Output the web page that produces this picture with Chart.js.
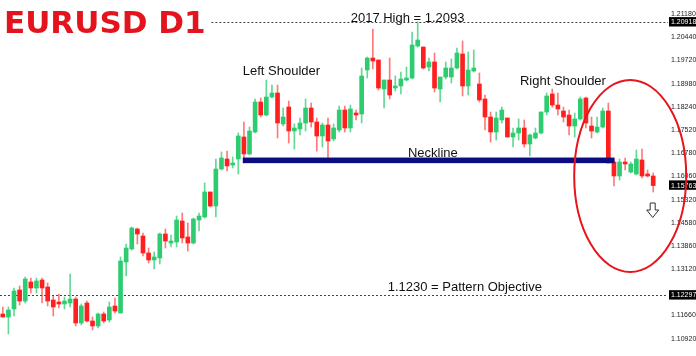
<!DOCTYPE html>
<html><head><meta charset="utf-8">
<script src="https://cdn.jsdelivr.net/npm/chart.js@4"></script>
<style>html,body{margin:0;padding:0;background:#fff;}canvas{display:block;}</style>
</head><body>
<canvas id="c" width="696" height="356"></canvas>
<script>
const opens = [1.11709,1.11614,1.11867,1.12467,1.12119,1.12720,1.12530,1.12783,1.12562,1.12151,
1.12088,1.12025,1.12056,1.12183,1.11425,1.12056,1.11488,1.11331,1.11709,1.11520,
1.11962,1.11740,1.13351,1.13761,1.14392,1.14172,1.13635,1.13414,1.13477,1.14235,
1.13950,1.13982,1.14645,1.14140,1.13950,1.14677,1.14771,1.15561,1.15119,1.16287,
1.16603,1.16413,1.16603,1.17297,1.16761,1.17455,1.18402,1.17991,1.18560,1.18686,
1.17708,1.18244,1.17486,1.17549,1.17739,1.18212,1.17771,1.17329,1.17676,1.17234,
1.17518,1.18149,1.17581,1.18054,1.18023,1.19412,1.19791,1.19728,1.18812,1.19096,
1.18844,1.18907,1.19096,1.19159,1.20170,1.20138,1.19507,1.19665,1.18812,1.19191,
1.19191,1.19475,1.19917,1.18907,1.19381,1.18970,1.18497,1.17928,1.17455,1.17834,
1.17897,1.17297,1.17423,1.17581,1.17076,1.17265,1.17423,1.18086,1.18655,1.18307,
1.18118,1.17991,1.17644,1.17865,1.18528,1.17644,1.17455,1.17612,1.18118,1.16508,
1.16066,1.16508,1.16192,1.16129,1.16571,1.16129,1.16066];
const highs = [1.11930,1.11930,1.12530,1.12594,1.12877,1.12845,1.12845,1.12845,1.12688,1.12278,
1.12341,1.12246,1.12972,1.12246,1.12025,1.12119,1.11614,1.11740,1.11772,1.12088,
1.12214,1.13509,1.13919,1.14456,1.14424,1.14266,1.13792,1.13667,1.14266,1.14392,
1.14203,1.14803,1.14897,1.14582,1.14740,1.14897,1.15844,1.15561,1.16603,1.16824,
1.16855,1.16666,1.17423,1.17771,1.17612,1.18497,1.18528,1.19096,1.18938,1.18938,
1.18212,1.18433,1.17708,1.17897,1.18497,1.18370,1.17897,1.17739,1.17897,1.17708,
1.18275,1.18275,1.18307,1.18149,1.19475,1.19822,1.20707,1.19728,1.19096,1.19791,
1.19223,1.19349,1.19507,1.20612,1.20930,1.20138,1.19791,1.19949,1.19191,1.19665,
1.19759,1.20107,1.20328,1.19980,1.20044,1.19318,1.18623,1.18086,1.18086,1.18244,
1.17897,1.17581,1.17865,1.17834,1.17392,1.17581,1.18086,1.18686,1.18812,1.18686,
1.18244,1.18149,1.18054,1.18560,1.18560,1.17928,1.17928,1.18212,1.18370,1.16603,
1.16603,1.16634,1.16508,1.16887,1.16918,1.16255,1.16160];
const lows = [1.11614,1.11078,1.11646,1.11993,1.12056,1.12372,1.12372,1.12056,1.11962,1.11646,
1.11899,1.11867,1.11930,1.11331,1.11362,1.11457,1.11204,1.11267,1.11425,1.11457,
1.11740,1.11740,1.12909,1.13730,1.13919,1.13541,1.13319,1.13130,1.13288,1.13792,
1.13824,1.13824,1.13950,1.13698,1.13919,1.14329,1.14740,1.15087,1.14771,1.16255,
1.16224,1.16318,1.16129,1.16476,1.16729,1.17423,1.17928,1.17960,1.18528,1.17265,
1.17644,1.17107,1.16918,1.17360,1.17486,1.17612,1.16855,1.16981,1.16634,1.17171,
1.17455,1.17455,1.17455,1.17834,1.17739,1.19159,1.19444,1.18781,1.18212,1.18497,
1.18749,1.18655,1.19065,1.19128,1.20138,1.19444,1.19381,1.18718,1.18402,1.19128,
1.19002,1.19444,1.18592,1.18623,1.19349,1.18402,1.17518,1.17139,1.17202,1.17739,
1.17297,1.16981,1.17202,1.16981,1.16697,1.17234,1.17392,1.17991,1.18244,1.17991,
1.17771,1.17360,1.17297,1.17834,1.17581,1.17265,1.17423,1.17581,1.16476,1.15750,
1.15939,1.16255,1.16160,1.16097,1.16003,1.16034,1.15561];
const closes = [1.11614,1.11835,1.12435,1.12119,1.12814,1.12530,1.12751,1.12530,1.12119,1.11930,
1.12025,1.12119,1.12183,1.11425,1.11962,1.11488,1.11331,1.11709,1.11488,1.11930,
1.11803,1.13382,1.13792,1.14424,1.14235,1.13635,1.13414,1.13509,1.14235,1.14013,
1.14013,1.14677,1.14109,1.13950,1.14708,1.14803,1.15561,1.15119,1.16287,1.16634,
1.16382,1.16476,1.17329,1.16761,1.17486,1.18402,1.17991,1.18560,1.18686,1.17739,
1.17928,1.17486,1.17581,1.17739,1.18212,1.17771,1.17329,1.17676,1.17171,1.17581,
1.18149,1.17581,1.18181,1.17991,1.19223,1.19791,1.19696,1.18844,1.19096,1.18623,
1.18907,1.19128,1.19159,1.20201,1.20359,1.19475,1.19665,1.18844,1.19191,1.19475,
1.19475,1.19949,1.18907,1.19412,1.19475,1.18465,1.17928,1.17455,1.17897,1.18149,
1.17297,1.17423,1.17581,1.17076,1.17360,1.17423,1.18086,1.18592,1.18307,1.18181,
1.17928,1.17644,1.17865,1.18497,1.17739,1.17486,1.17612,1.18118,1.16476,1.16066,
1.16508,1.16445,1.16445,1.16603,1.16066,1.16066,1.15763];

const axisTicks = [1.21180,1.20918,1.20440,1.19720,1.18980,1.18240,1.17520,1.16780,1.16060,
  1.15763,1.15320,1.14580,1.13860,1.13120,1.12297,1.11660,1.10920];
const boxedTicks = [1.20918,1.15763,1.12297];
const yMin = 1.10383, yMax = 1.21622;

const highLevel = 1.20918;
const objectiveLevel = 1.12297;
const necklineLevel = 1.1656;
const necklineFrom = 42.8, necklineTo = 109.1;
const highLineFrom = 37.2;

const notes = [
  {text:'2017 High = 1.2093', idx:72.2, value:1.20918},
  {text:'Left Shoulder', idx:49.7, value:1.19254},
  {text:'Right Shoulder', idx:99.9, value:1.18938},
  {text:'Neckline', idx:76.7, value:1.16676},
  {text:'1.1230 = Pattern Objective', idx:82.4, value:1.12445}
];
const titleText = 'EURUSD D1';
const circleCenter = {idx:111.9, value:1.16066};
const arrowAnchor = {idx:116, value:1.15213};

const labels = opens.map((_, i) => String(i));
const up = opens.map((o, i) => closes[i] >= o);
const GREEN = '#2ecc71', RED = '#ff1f1f';
const isBoxed = v => boxedTicks.some(b => Math.abs(b - v) < 1e-7);

const overlay = {
  id: 'overlay',
  beforeDatasetsDraw(chart) {
    const ctx = chart.ctx, xs = chart.scales.x, ys = chart.scales.y;
    const endX = ys.left + 12;
    ctx.save();
    ctx.strokeStyle = '#444';
    ctx.lineWidth = 1;
    ctx.setLineDash([2, 2]);
    let y = Math.round(ys.getPixelForValue(highLevel)) + 0.5;
    ctx.beginPath(); ctx.moveTo(xs.getPixelForValue(highLineFrom), y); ctx.lineTo(endX, y); ctx.stroke();
    y = Math.round(ys.getPixelForValue(objectiveLevel)) + 0.5;
    ctx.beginPath(); ctx.moveTo(0, y); ctx.lineTo(endX, y); ctx.stroke();
    ctx.restore();
  },
  afterDatasetsDraw(chart) {
    const ctx = chart.ctx, xs = chart.scales.x, ys = chart.scales.y;
    ctx.save();
    // neckline
    const ny = ys.getPixelForValue(necklineLevel);
    ctx.fillStyle = '#0b0b82';
    const nx1 = xs.getPixelForValue(necklineFrom), nx2 = xs.getPixelForValue(necklineTo);
    ctx.fillRect(nx1, ny - 2.8, nx2 - nx1, 5.6);
    // notes
    ctx.fillStyle = '#111';
    ctx.font = '13px "Liberation Sans", Arial, sans-serif';
    ctx.textAlign = 'center';
    ctx.textBaseline = 'alphabetic';
    notes.forEach(n => ctx.fillText(n.text, xs.getPixelForValue(n.idx), ys.getPixelForValue(n.value)));
    // title
    ctx.fillStyle = '#e3141d';
    ctx.font = 'bold 31px "DejaVu Sans", sans-serif';
    ctx.textAlign = 'left';
    ctx.fillText(titleText, 4, 33);
    ctx.restore();
  },
  afterDraw(chart) {
    const ctx = chart.ctx, xs = chart.scales.x, ys = chart.scales.y;
    ctx.save();
    const cx = xs.getPixelForValue(circleCenter.idx), cy = ys.getPixelForValue(circleCenter.value);
    ctx.strokeStyle = '#e8141c';
    ctx.lineWidth = 2;
    ctx.beginPath();
    ctx.ellipse(cx, cy, 56, 96, 0, 0, Math.PI * 2);
    ctx.stroke();
    // down arrow
    const ax = xs.getPixelForValue(arrowAnchor.idx) - 0.5, ay = ys.getPixelForValue(arrowAnchor.value);
    ctx.beginPath();
    ctx.moveTo(ax - 2.5, ay);
    ctx.lineTo(ax + 2.5, ay);
    ctx.lineTo(ax + 2.5, ay + 7);
    ctx.lineTo(ax + 6, ay + 7);
    ctx.lineTo(ax, ay + 14.5);
    ctx.lineTo(ax - 6, ay + 7);
    ctx.lineTo(ax - 2.5, ay + 7);
    ctx.closePath();
    ctx.fillStyle = '#fff';
    ctx.fill();
    ctx.strokeStyle = '#333';
    ctx.lineWidth = 1;
    ctx.stroke();
    ctx.restore();
  }
};

new Chart(document.getElementById('c'), {
  type: 'bar',
  data: {
    labels,
    datasets: [
      {
        label: 'wick',
        data: lows.map((l, i) => [l, highs[i]]),
        backgroundColor: up.map(u => u ? 'rgba(46,204,113,0.75)' : 'rgba(255,31,31,0.6)'),
        barThickness: 1,
        grouped: false,
        order: 2
      },
      {
        label: 'body',
        data: opens.map((o, i) => [Math.min(o, closes[i]), Math.max(o, closes[i])]),
        backgroundColor: up.map(u => u ? GREEN : RED),
        barThickness: 4,
        minBarLength: 1.5,
        grouped: false,
        order: 1
      }
    ]
  },
  options: {
    responsive: false,
    animation: false,
    devicePixelRatio: 1,
    layout: { padding: 0 },
    plugins: { legend: { display: false }, tooltip: { enabled: false }, title: { display: false } },
    scales: {
      x: { type: 'category', display: false, offset: true, grid: { display: false } },
      y: {
        position: 'right',
        min: yMin, max: yMax,
        grid: { display: false, drawTicks: false },
        border: { display: false },
        afterBuildTicks: s => { s.ticks = axisTicks.map(v => ({ value: v })); },
        afterFit: s => { s.width = 40; s.paddingTop = 0; s.paddingBottom = 0; },
        ticks: {
          autoSkip: false,
          padding: 15,
          font: { family: '"Liberation Sans", Arial, sans-serif', size: 7 },
          color: c => (c.tick && isBoxed(c.tick.value)) ? '#fff' : '#222',
          showLabelBackdrop: c => !!(c.tick && isBoxed(c.tick.value)),
          backdropColor: '#000',
          backdropPadding: { left: 2, right: 2, top: 1, bottom: 0 },
          callback: v => Number(v).toFixed(5)
        }
      }
    }
  },
  plugins: [overlay]
});
</script>
</body></html>
